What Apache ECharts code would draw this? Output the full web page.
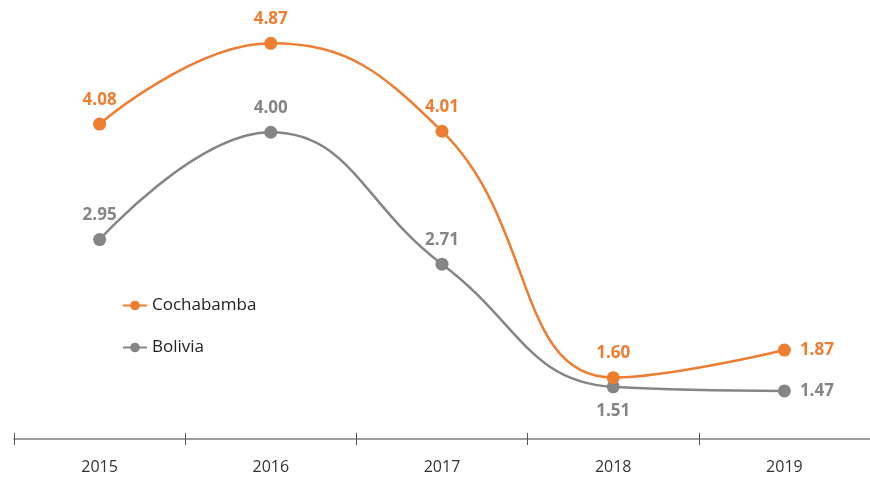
<!DOCTYPE html>
<html lang="es">
<head>
    <meta charset="UTF-8">
    <title>Cochabamba vs Bolivia</title>
    <script src="https://cdn.jsdelivr.net/npm/echarts@6/dist/echarts.min.js"></script>
    <style type="text/css">
        body{ margin:0; background:#fff; }
        #main{ width:870px; height:477px; }
    </style>
</head>
<body>
<div id="main"></div>
<script type="application/javascript">
    var years = ['2015', '2016', '2017', '2018', '2019'];
    var cochabamba = [4.08, 4.87, 4.01, 1.60, 1.87];
    var bolivia = [2.95, 4.00, 2.71, 1.51, 1.47];

    var orange = '#ED7D31';
    var grey = '#858585';
    var font = 'Open Sans';

    // label positions per point
    var cochaPos = ['top', 'top', 'top', 'top', 'right'];
    var boliPos = ['top', 'top', 'top', 'bottom', 'right'];

    function withLabels(values, positions) {
        return values.map(function (v, i) {
            return { value: v, label: { position: positions[i] } };
        });
    }

    var myChart = echarts.init(document.getElementById('main'));

    myChart.setOption({
        animation: false,
        textStyle: { fontFamily: font },
        grid: { left: 14, top: 30, width: 863, bottom: 38 },
        legend: {
            data: ['Cochabamba', 'Bolivia'],
            orient: 'vertical',
            left: 117,
            top: 292,
            itemGap: 25,
            itemWidth: 24,
            itemHeight: 12,
            textStyle: { fontSize: 17, color: '#222', fontFamily: font }
        },
        xAxis: [{
            type: 'category',
            data: years,
            boundaryGap: true,
            axisLine: { lineStyle: { color: '#7f7f7f', width: 1.5 } },
            axisTick: { show: true, length: 6, lineStyle: { color: '#555' } },
            axisLabel: { fontSize: 16, color: '#333', margin: 20 }
        }, {
            // second axis only to draw the upper half of the cross ticks
            type: 'category',
            data: years,
            position: 'bottom',
            boundaryGap: true,
            axisLine: { show: false },
            axisTick: { show: true, inside: true, length: 6, lineStyle: { color: '#555' } },
            axisLabel: { show: false }
        }],
        yAxis: {
            type: 'value',
            min: 1,
            max: 5,
            show: false
        },
        series: [
            {
                name: 'Bolivia',
                type: 'line',
                smooth: 0.45,
                symbol: 'circle',
                symbolSize: 13,
                itemStyle: { color: grey },
                lineStyle: { color: grey, width: 2.5 },
                label: {
                    show: true,
                    fontSize: 17,
                    fontWeight: 'bold',
                    color: grey,
                    distance: 9,
                    formatter: function (p) { return p.value.toFixed(2); }
                },
                data: withLabels(bolivia, boliPos)
            },
            {
                name: 'Cochabamba',
                type: 'line',
                smooth: 0.45,
                symbol: 'circle',
                symbolSize: 13,
                itemStyle: { color: orange },
                lineStyle: { color: orange, width: 2.5 },
                label: {
                    show: true,
                    fontSize: 17,
                    fontWeight: 'bold',
                    color: orange,
                    distance: 9,
                    formatter: function (p) { return p.value.toFixed(2); }
                },
                data: withLabels(cochabamba, cochaPos)
            }
        ]
    });
</script>
</body>
</html>
